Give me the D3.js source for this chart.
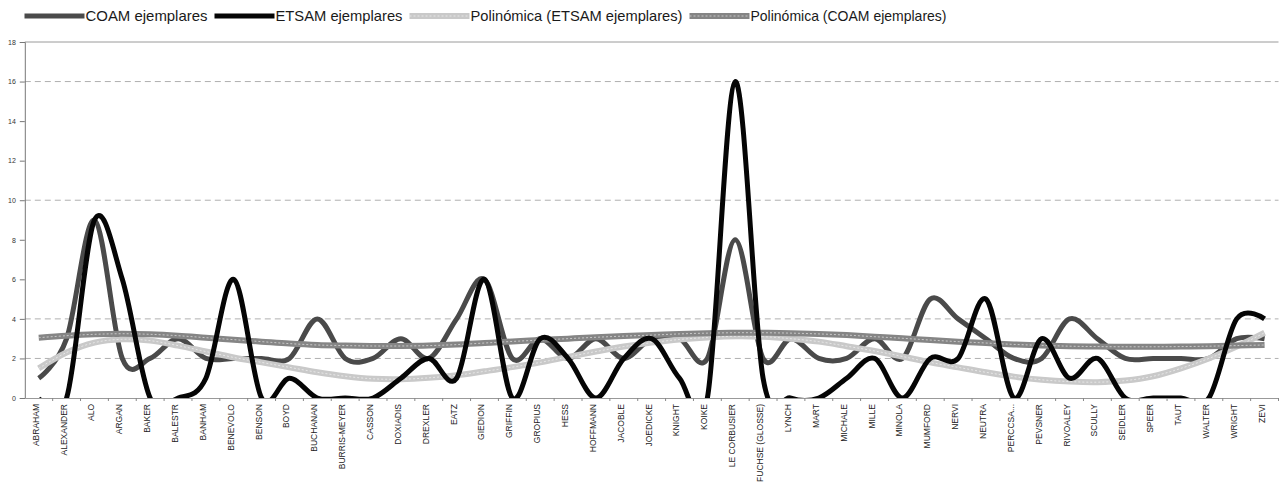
<!DOCTYPE html>
<html><head><meta charset="utf-8">
<script src="https://cdn.jsdelivr.net/npm/d3@7"></script>
<style>
html,body{margin:0;padding:0;background:#fff;}
svg{display:block;font-family:"Liberation Sans",Arial,sans-serif;}
</style></head>
<body>
<svg id="chart" width="1279" height="483"></svg>
<script>
const categories = ["ABRAHAM","ALEXANDER","ALO","ARGAN","BAKER","BALESTR","BANHAM","BENEVOLO","BENSON","BOYD","BUCHANAN","BURRIS-MEYER","CASSON","DOXIADIS","DREXLER","EATZ","GIEDION","GRIFFIN","GROPIUS","HESS","HOFFMANN","JACOBLE","JOEDICKE","KNIGHT","KOIKE","LE CORBUSIER","FUCHSE (GLOSSE)","LYNCH","MART","MICHALE","MILLE","MINOLA","MUMFORD","NERVI","NEUTRA","PERCCSA...","PEVSNER","RIVOALEY","SCULLY","SEIDLER","SPEER","TAUT","WALTER","WRIGHT","ZEVI"];
const coam  = [1,3,9,2,2,3,2,2,2,2,4,2,2,3,2,4,6,2,3,2,3,2,3,3,2,8,2,3,2,2,3,2,5,4,3,2,2,4,3,2,2,2,2,3,3];
const etsam = [0,0,9,6,0,0,1,6,0,1,0,0,0,1,2,1,6,0,3,2,0,2,3,1,0,16,1,0,0,1,2,0,2,2,5,0,3,1,2,0,0,0,0,4,4];
const polyEtsam = [1.5,2.3,2.8,2.97,2.9,2.65,2.35,2.05,1.8,1.55,1.3,1.1,0.97,0.95,1.02,1.15,1.35,1.56,1.8,2.08,2.35,2.6,2.8,2.96,3.06,3.12,3.1,3.0,2.85,2.62,2.38,2.1,1.8,1.55,1.3,1.08,0.92,0.83,0.8,0.88,1.1,1.5,2.0,2.6,3.3];
const polyCoam = [3.05,3.15,3.22,3.25,3.22,3.15,3.05,2.95,2.85,2.75,2.68,2.65,2.63,2.63,2.65,2.7,2.78,2.86,2.93,3.0,3.07,3.13,3.18,3.24,3.28,3.3,3.3,3.28,3.24,3.18,3.1,3.02,2.93,2.85,2.78,2.71,2.66,2.62,2.6,2.59,2.59,2.6,2.62,2.65,2.68];
const yTicks = [0,2,4,6,8,10,12,14,16,18];
const gridTicks = [2,4,10,16];
const seriesNames = ["COAM ejemplares","ETSAM ejemplares","Polinómica (ETSAM ejemplares)","Polinómica (COAM ejemplares)"];

const svg = d3.select("#chart");
const pL = 24.8, pR = 1278.5, pT = 42, pB = 398;
const x = d3.scaleBand().domain(categories).range([pL, pR]);
const y = d3.scaleLinear().domain([0,18]).range([pB, pT]);
const cx = d => x(d) + x.bandwidth()/2;

svg.append("defs").append("clipPath").attr("id","clip")
  .append("rect").attr("x",pL).attr("y",pT-10).attr("width",pR-pL).attr("height",pB-pT+10);

svg.append("g").selectAll("line").data(gridTicks).join("line")
  .attr("x1",pL).attr("x2",pR).attr("y1",d=>y(d)).attr("y2",d=>y(d))
  .attr("stroke","#b0b0b0").attr("stroke-width",1).attr("stroke-dasharray","6,4");
svg.append("line").attr("x1",pL).attr("x2",pR).attr("y1",y(18)).attr("y2",y(18))
  .attr("stroke","#9a9a9a").attr("stroke-width",1);

const yAxis = d3.axisLeft(y).tickValues(yTicks).tickSize(5).tickPadding(4);
const gy = svg.append("g").attr("transform",`translate(${pL},0)`).call(yAxis);
gy.select(".domain").attr("stroke","#777");
gy.selectAll(".tick line").attr("stroke","#777");
gy.selectAll(".tick text").attr("font-size","7px").attr("fill","#333")
  .attr("font-family","Liberation Sans, Arial, sans-serif");

const xAxis = d3.axisBottom(x).tickSize(0).tickPadding(0);
const gx = svg.append("g").attr("transform",`translate(0,${pB})`).call(xAxis);
gx.select(".domain").attr("stroke","#999");
gx.selectAll(".tick text")
  .attr("font-size","8.5px").attr("fill","#222")
  .attr("font-family","Liberation Sans, Arial, sans-serif")
  .attr("text-anchor","end")
  .attr("transform","translate(-3,6) rotate(-90)")
  .attr("dy","0.35em").attr("x",0).attr("y",0);
const bounds = categories.map(c => x(c)).concat([pR]);
svg.append("g").selectAll("line").data(bounds.slice(1)).join("line")
  .attr("x1",d=>d).attr("x2",d=>d).attr("y1",pB).attr("y2",pB+3)
  .attr("stroke","#888").attr("stroke-width",1);

const smooth = d3.line().x((d,i)=>cx(categories[i])).y(d=>y(d)).curve(d3.curveCatmullRom.alpha(0));
const plot = svg.append("g").attr("clip-path","url(#clip)");

const colCoam = "#4a4a4a", colEtsam = "#050505", colPE = "#c9c9c9", colPC = "#858585";

plot.append("path").attr("d",smooth(coam)).attr("fill","none").attr("stroke",colCoam).attr("stroke-width",5).attr("stroke-linejoin","round");
function trend(vals,col){
  plot.append("path").attr("d",smooth(vals)).attr("fill","none").attr("stroke",col).attr("stroke-width",6);
  plot.append("path").attr("d",smooth(vals)).attr("fill","none").attr("stroke","#fff").attr("stroke-opacity",0.55).attr("stroke-width",1).attr("stroke-dasharray","2,2");
}
trend(polyEtsam,colPE);
trend(polyCoam,colPC);
plot.append("path").attr("d",smooth(etsam)).attr("fill","none").attr("stroke",colEtsam).attr("stroke-width",5).attr("stroke-linejoin","round");

const legCols = [colCoam, colEtsam, colPE, colPC];
const legTextW = [122,127,212,196];
const leg = svg.append("g");
let lx = 24.5;
seriesNames.forEach((name,i)=>{
  const g = leg.append("g");
  g.append("line").attr("x1",lx).attr("x2",lx+60).attr("y1",16).attr("y2",16)
    .attr("stroke",legCols[i]).attr("stroke-width",i>=2?6:5);
  if(i>=2) g.append("line").attr("x1",lx).attr("x2",lx+60).attr("y1",16).attr("y2",16)
    .attr("stroke","#fff").attr("stroke-opacity",0.55).attr("stroke-width",1).attr("stroke-dasharray","2,2");
  g.append("text").attr("x",lx+61).attr("y",21).attr("font-size","15px").attr("fill","#1a1a1a")
    .attr("textLength",legTextW[i]).attr("lengthAdjust","spacingAndGlyphs").text(name);
  lx = lx + 61 + legTextW[i] + 7;
});
</script>
</body></html>
